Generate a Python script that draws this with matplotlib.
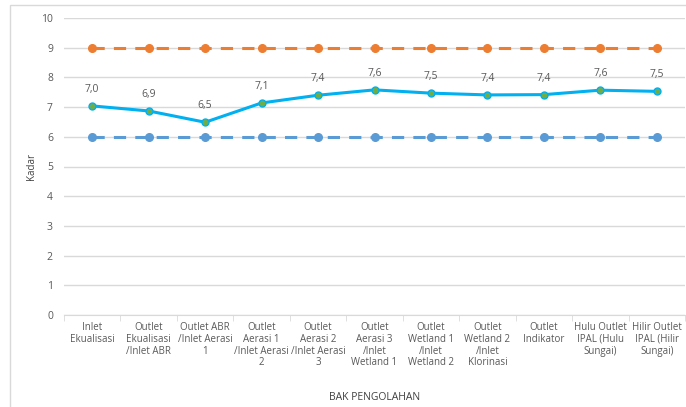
import matplotlib
matplotlib.use("Agg")
import matplotlib.pyplot as plt
from matplotlib.patches import Rectangle

categories = [
    "Inlet\nEkualisasi",
    "Outlet\nEkualisasi\n/Inlet ABR",
    "Outlet ABR\n/Inlet Aerasi\n1",
    "Outlet\nAerasi 1\n/Inlet Aerasi\n2",
    "Outlet\nAerasi 2\n/Inlet Aerasi\n3",
    "Outlet\nAerasi 3\n/Inlet\nWetland 1",
    "Outlet\nWetland 1\n/Inlet\nWetland 2",
    "Outlet\nWetland 2\n/Inlet\nKlorinasi",
    "Outlet\nIndikator",
    "Hulu Outlet\nIPAL (Hulu\nSungai)",
    "Hilir Outlet\nIPAL (Hilir\nSungai)",
]
kadar = [7.04, 6.87, 6.49, 7.14, 7.40, 7.58, 7.47, 7.41, 7.42, 7.57, 7.53]
batas_atas = [9] * len(categories)
batas_bawah = [6] * len(categories)

plt.rcParams['font.family'] = ['Open Sans', 'DejaVu Sans']
gray = "#595959"

fig = plt.figure(figsize=(6.86, 4.07), dpi=100)
fig.patches.append(Rectangle((10 / 686, -0.01), 1.0, 1 - 5 / 407 + 0.01,
                             transform=fig.transFigure, fill=False,
                             edgecolor="#d9d9d9", linewidth=1))
ax = fig.add_axes([64 / 686, 1 - 315 / 407, 621 / 686, 297 / 407])

x = list(range(len(categories)))
ax.plot(x, batas_atas, color="#ed7d31", linestyle=(0, (4, 3)), linewidth=2.2,
        marker="o", markersize=5.5, zorder=3)
ax.plot(x, batas_bawah, color="#5b9bd5", linestyle=(0, (4, 3)), linewidth=2.2,
        marker="o", markersize=5.5, zorder=3)
ax.plot(x, kadar, color="#00b0f0", linewidth=2.2, marker="o", markersize=5,
        markerfacecolor="#70ad47", markeredgecolor="#00b0f0",
        markeredgewidth=1, zorder=4)
for xi, v in zip(x, kadar):
    ax.annotate(f"{v:.1f}".replace(".", ","), (xi, v), xytext=(0, 8),
                textcoords="offset points", ha="center", va="bottom",
                fontsize=7.5, color=gray)

ax.set_xlim(-0.5, len(categories) - 0.5)
ax.set_ylim(0, 10)
ax.set_yticks(range(0, 11))
ax.grid(axis="y", color="#d9d9d9", linewidth=1)
ax.set_axisbelow(True)
for s in ["top", "right", "left"]:
    ax.spines[s].set_visible(False)
ax.spines["bottom"].set_color("#d9d9d9")
ax.tick_params(axis="y", length=0, labelsize=7.5, labelcolor=gray, pad=8)
ax.set_xticks(x)
ax.set_xticklabels(categories, fontsize=7, color=gray, linespacing=1.1)
ax.tick_params(axis="x", length=0, pad=5)
ax.set_xticks([i - 0.5 for i in range(len(categories) + 1)], minor=True)
ax.tick_params(axis="x", which="minor", length=4, color="#d9d9d9")

ax.set_ylabel("Kadar", fontsize=7, color="#404040", labelpad=3)
fig.text(375 / 686, 1 - 397 / 407, "BAK PENGOLAHAN", ha="center", va="center",
         fontsize=7.5, color="#404040")

fig.savefig("out.png", dpi=100)
